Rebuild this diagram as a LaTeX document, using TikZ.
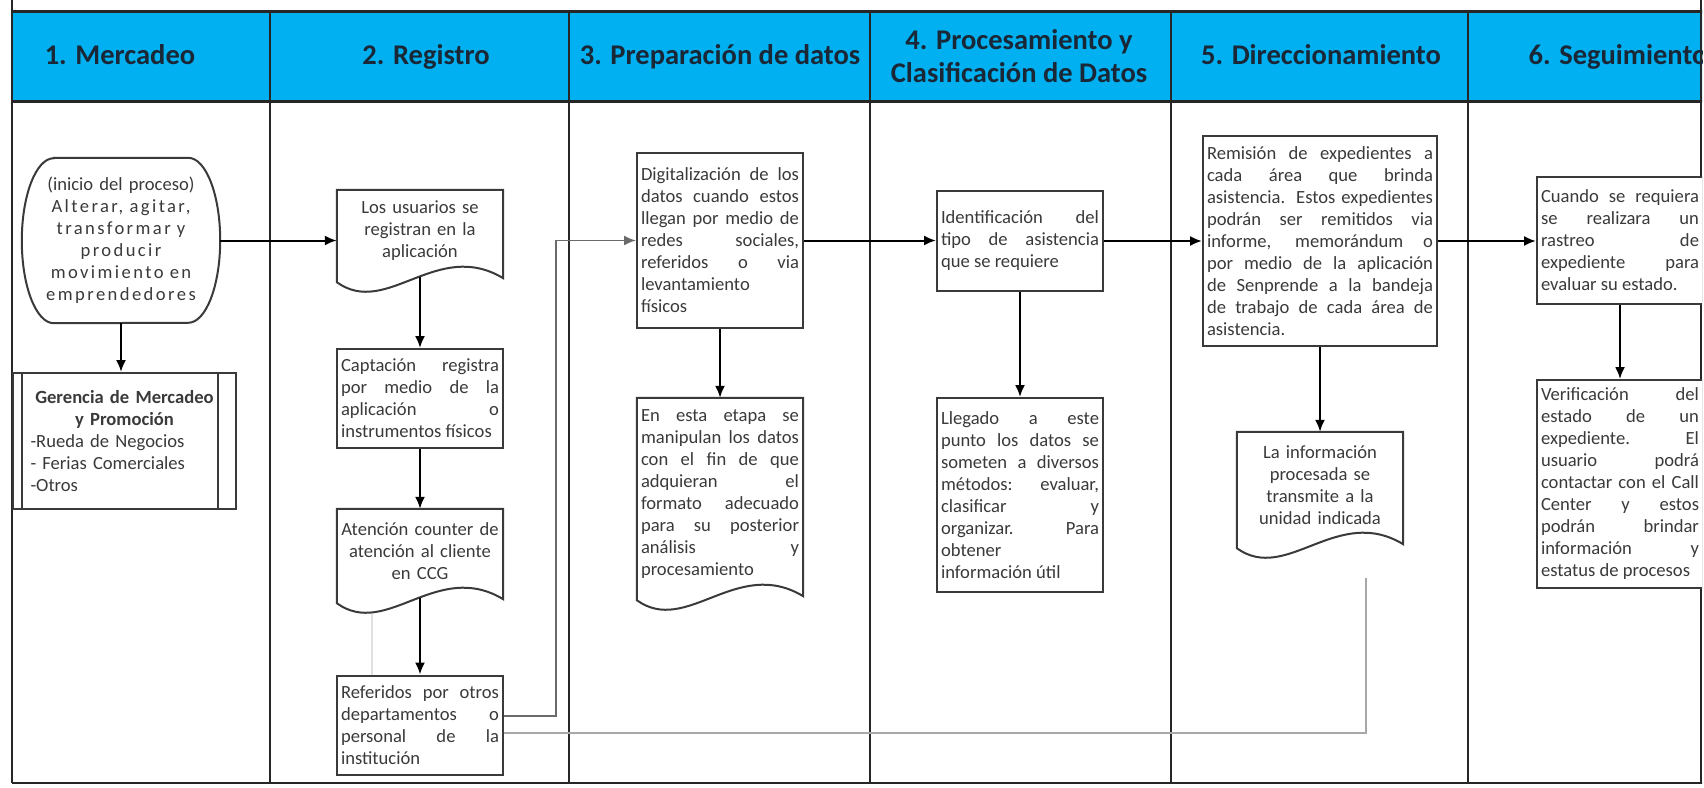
\documentclass[tikz,border=0pt]{standalone}
\usepackage{fontspec}
\setmainfont{Carlito}
\newfontfamily\spacedfont[LetterSpace=13]{Carlito}
\usetikzlibrary{arrows.meta,calc}
\definecolor{headblue}{HTML}{00B0F0}
\definecolor{headtext}{HTML}{1A2736}
\definecolor{rulecol}{HTML}{262626}
\definecolor{boxcol}{HTML}{3A3A3A}
\definecolor{bodytext}{HTML}{3A3A3A}
\definecolor{linkgray}{HTML}{6A6A6A}
\definecolor{palegray}{HTML}{A8A8A8}
\newcommand\bodysize{\fontsize{18.6}{22}\selectfont}
\newcommand\headsize{\fontsize{28.5}{33}\selectfont}
\tolerance=10000
\hbadness=10000
\tikzset{
  lanerule/.style={draw=rulecol,line width=2.6pt},
  headcell/.style={font=\headsize\bfseries,text=headtext,align=center,inner sep=0pt},
  procbox/.style={draw=boxcol,line width=2pt,fill=white,font=\bodysize,text=bodytext,
    text width=158pt,inner xsep=4pt,inner ysep=3pt,align=justify},
  docbox/.style={font=\bodysize,text=bodytext,text width=158pt,inner xsep=4pt,inner ysep=3pt,align=center},
  boxline/.style={draw=boxcol,line width=2pt},
  flowarrow/.style={draw=black,line width=2pt,-{Latex[length=12pt,width=10pt]}},
  paleline/.style={draw=palegray,line width=1.6pt}
}

\begin{document}
\begin{tikzpicture}[x=1pt,y=-1pt]
  \useasboundingbox (0,0) rectangle (1704,787);
  \clip (0,0) rectangle (1702,787);

  % header band and lanes
  \fill[headblue] (12,11) rectangle (1780,101);
  \draw[lanerule,line width=3pt] (12,11) -- (1780,11);
  \draw[lanerule,line width=3pt] (12,101) -- (1780,101);
  \draw[lanerule] (12,783) -- (1780,783);
  \draw[lanerule] (12,0) -- (12,783);
  \draw[lanerule] (1701,0) -- (1701,783);
  \foreach \xs in {270,569,870,1171,1468} {
    \draw[lanerule] (\xs,11) -- (\xs,783);
  }

  \foreach \hx/\htxt [count=\hi] in {120/1. Mercadeo,426/2. Registro,720/3. Preparación de datos,
      1321/5. Direccionamiento,1618/6. Seguimiento} {
    \node[headcell,anchor=base] (head\hi) at (\hx,64) {\htxt};
  }
  \node[headcell] (headproc) at (1019,56) {4. Procesamiento y\\Clasificación de Datos};

  % 1. Mercadeo
  \node[docbox,text width=170pt,minimum width=198pt,minimum height=165pt] (start) at (121,240.5)
    {(inicio del proceso)\\{\spacedfont Alterar, agitar,}\\{\spacedfont transformar y}\\{\spacedfont producir}\\{\spacedfont movimiento en}\\{\spacedfont emprendedores}};
  \draw[boxline] ([xshift=32pt]start.north west) -- ([xshift=-32pt]start.north east)
    arc[start angle=90,end angle=-90,x radius=32pt,y radius=82.5pt]
    -- ([xshift=32pt]start.south west)
    arc[start angle=270,end angle=90,x radius=32pt,y radius=82.5pt] -- cycle;

  \node[procbox,align=left,text width=188pt,inner xsep=0pt,minimum width=223pt,minimum height=136pt] (gerencia) at (124.5,441)
    {{\centering\bfseries Gerencia de Mercadeo\\y Promoción\par}-Rueda de Negocios\\- Ferias Comerciales\\-Otros};
  \draw[boxline] ([xshift=10pt]gerencia.north west) -- ([xshift=10pt]gerencia.south west);
  \draw[boxline] ([xshift=-19pt]gerencia.north east) -- ([xshift=-19pt]gerencia.south east);

  % 2. Registro
  \node[docbox,minimum height=82pt] (usuarios) at (420,231) {Los usuarios se\\registran en la\\aplicación};
  \node[procbox,minimum height=99pt] (captacion) at (420,398.5)
    {Captación registra\linebreak por medio de la\linebreak aplicación o\linebreak instrumentos físicos};
  \node[docbox,minimum height=84pt] (atencion) at (420,551) {Atención counter de\\atención al cliente\\en CCG};
  \node[procbox,minimum height=99pt] (referidos) at (420,725)
    {Referidos por otros\linebreak departamentos o\linebreak personal de la\linebreak institución};

  % 3. Preparacion de datos
  \node[procbox,minimum height=175pt] (digital) at (720,240.5)
    {Digitalización de los\linebreak datos cuando estos\linebreak llegan por medio de\linebreak redes sociales,\linebreak referidos o via\linebreak levantamiento\linebreak físicos};
  \node[docbox,align=justify,minimum height=192pt] (etapa) at (720,494)
    {En esta etapa se\linebreak manipulan los datos\linebreak con el fin de que\linebreak adquieran el\linebreak formato adecuado\linebreak para su posterior\linebreak análisis y\linebreak procesamiento};

  % 4. Procesamiento y clasificacion
  \node[procbox,minimum height=100pt] (ident) at (1020,241)
    {Identificación del\linebreak tipo de asistencia\linebreak que se requiere};
  \node[procbox,minimum height=194pt] (llegado) at (1020,495)
    {Llegado a este\linebreak punto los datos se\linebreak someten a diversos\linebreak métodos: evaluar,\linebreak clasificar y\linebreak organizar. Para\linebreak obtener\linebreak información útil};

  % 5. Direccionamiento
  \node[procbox,text width=226pt,minimum height=210pt] (remision) at (1320,241)
    {Remisión de expedientes a\linebreak cada área que brinda\linebreak asistencia. Estos expedientes\linebreak podrán ser remitidos via\linebreak informe, memorándum o\linebreak por medio de la aplicación\linebreak de Senprende a la bandeja\linebreak de trabajo de cada área de\linebreak asistencia.};
  \node[docbox,minimum height=106pt] (transmite) at (1320,485) {La información\\procesada se\\transmite a la\\unidad indicada};

  % 6. Seguimiento
  \node[procbox,minimum height=127pt] (cuando) at (1620,240.5)
    {Cuando se requiera\linebreak se realizara un\linebreak rastreo de\linebreak expediente para\linebreak evaluar su estado.};
  \node[procbox,minimum height=208pt] (verif) at (1620,484)
    {Verificación del\linebreak estado de un\linebreak expediente. El\linebreak usuario podrá\linebreak contactar con el Call\linebreak Center y estos\linebreak podrán brindar\linebreak información y\linebreak estatus de procesos};

  % document outlines
  \foreach \d in {usuarios,atencion,etapa,transmite} {
    \draw[boxline] ($(\d.south west)+(0,10)$) -- (\d.north west) -- (\d.north east) -- ($(\d.south east)+(0,6)$)
      .. controls ($(\d.south west)+(100,-34)$) and ($(\d.south west)+(50,46)$) .. ($(\d.south west)+(0,10)$) -- cycle;
  }

  % connectors
  \coordinate (loose) at (1366,578);
  \coordinate (ghosttop) at (372,614);
  \draw[paleline,draw=black!12] (ghosttop) -- (ghosttop |- referidos.north);
  \draw[paleline] ([yshift=-8pt]referidos.east) -| (loose);
  \draw[flowarrow,draw=linkgray,line width=1.8pt] ([yshift=9pt]referidos.east) -- ++(52,0) |- (digital.west);

  \draw[flowarrow] (start.south) -- (start.south |- gerencia.north);
  \draw[flowarrow] (start.east) -- (start.east -| usuarios.west);
  \draw[flowarrow] ([yshift=-5pt]usuarios.south) -- (captacion.north);
  \draw[flowarrow] (captacion.south) -- (atencion.north);
  \draw[flowarrow] ([yshift=-5pt]atencion.south) -- (referidos.north);
  \draw[flowarrow] (digital.south) -- (etapa.north);
  \draw[flowarrow] (digital.east) -- (digital.east -| ident.west);
  \draw[flowarrow] (ident.south) -- (llegado.north);
  \draw[flowarrow] (ident.east) -- (ident.east -| remision.west);
  \draw[flowarrow] (remision.south) -- (transmite.north);
  \draw[flowarrow] (remision.east) -- (remision.east -| cuando.west);
  \draw[flowarrow] (cuando.south) -- (verif.north);
\end{tikzpicture}
\end{document}
